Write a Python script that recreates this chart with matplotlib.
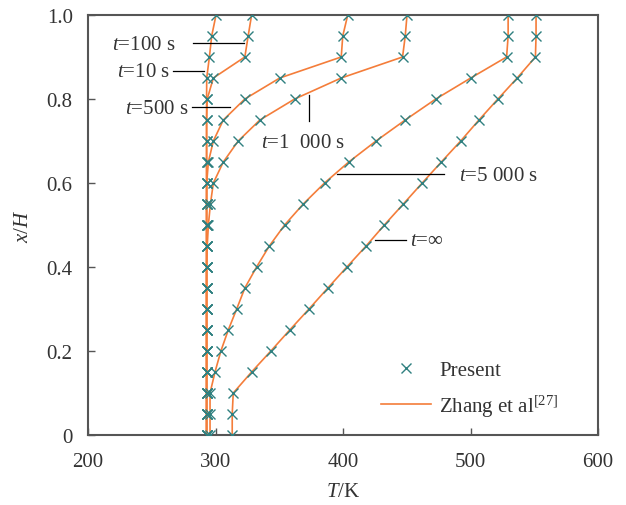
import matplotlib
matplotlib.use("Agg")
import matplotlib.pyplot as plt
import numpy as np

plt.rcParams["font.family"] = ["Liberation Serif", "DejaVu Serif"]
plt.rcParams["mathtext.fontset"] = "custom"
plt.rcParams["mathtext.rm"] = "Liberation Serif"
plt.rcParams["mathtext.it"] = "Liberation Serif:italic"

_TEAL = "#2f8080"
_ORANGE = "#f47d3a"
_INK = "#333333"
_SPINE = "#555555"

# height positions x/H (same for every profile)
x_h = [0.0, 0.05, 0.1, 0.15, 0.2, 0.25, 0.3, 0.35, 0.4, 0.45, 0.5,
       0.55, 0.6, 0.65, 0.7, 0.75, 0.8, 0.85, 0.9, 0.95, 1.0]

# temperature profiles T (K)
T_10 = [293, 293, 293, 293, 293, 293, 293, 293, 293, 293, 293,
        293, 293, 293, 293, 293, 293, 293.1, 295.2, 297.0, 300.4]
T_100 = [293, 293, 293, 293, 293, 293, 293, 293, 293, 293, 293,
         293, 293, 293, 293, 293, 293.5, 298.3, 323.0, 325.6, 328.3]
T_500 = [293, 293, 293, 293, 293, 293, 293, 293, 293, 293, 293,
         293, 293.1, 294.4, 298.3, 306.1, 323.0, 350.4, 398.6, 399.8, 403.7]
T_1000 = [293, 293, 293, 293, 293, 293, 293, 293, 293, 293.5, 294.4,
          296.0, 298.3, 306.1, 317.8, 334.8, 362.1, 398.6, 446.7, 448.8, 450.2]
T_5000 = [295.7, 295.7, 295.7, 299.6, 304.2, 310.0, 316.6, 323.0, 332.2, 342.2, 354.2,
          368.8, 385.5, 404.5, 425.9, 448.8, 472.8, 500.2, 528.3, 529.5, 529.5]
T_inf = [313.1, 313.1, 313.9, 328.3, 343.4, 358.2, 373.3, 388.1, 403.0, 418.1, 432.4,
         447.3, 462.1, 477.1, 492.3, 506.6, 521.5, 536.6, 550.9, 551.4, 551.4]

profiles = [T_10, T_100, T_500, T_1000, T_5000, T_inf]

fig = plt.figure(figsize=(6.26, 5.06), dpi=100)
ax = fig.add_axes([0.1406, 0.1383, 0.8147, 0.8301])

line_h = None
mark_h = None
for T in profiles:
    (line_h,) = ax.plot(T, x_h, color=_ORANGE, lw=1.2, zorder=2)
for T in profiles:
    (mark_h,) = ax.plot(T, x_h, ls="none", marker="x", ms=7, mew=1.0,
                        color=_TEAL, zorder=3)

# annotations: leader lines + labels
fs = 15
ax.plot([282.4, 322.3], [0.933, 0.933], color="k", lw=0.9)
ax.text(268.4, 0.929, "$t$=100 s", ha="right", va="center", fontsize=fs, color=_INK)
ax.plot([266.8, 291.0], [0.867, 0.867], color="k", lw=0.9)
ax.text(264.5, 0.865, "$t$=10 s", ha="right", va="center", fontsize=fs, color=_INK)
ax.plot([281.6, 311.3], [0.78, 0.78], color="k", lw=0.9)
ax.text(279.0, 0.778, "$t$=500 s", ha="right", va="center", fontsize=fs, color=_INK)
ax.plot([373.3, 373.3], [0.748, 0.81], color="k", lw=0.9)
ax.text(336.0, 0.697, "$t$=1  000 s", ha="left", va="center", fontsize=fs, color=_INK)
ax.plot([395.0, 479.3], [0.621, 0.621], color="k", lw=0.9)
ax.text(491.0, 0.619, "$t$=5 000 s", ha="left", va="center", fontsize=fs, color=_INK)
ax.plot([425.4, 449.4], [0.465, 0.465], color="k", lw=0.9)
ax.text(452.5, 0.463, "$t$=∞", ha="left", va="center", fontsize=fs, color=_INK)

ax.set_xlim(200, 600)
ax.set_ylim(0, 1.0)
ax.set_xticks([200, 300, 400, 500, 600])
ax.set_yticks([0, 0.2, 0.4, 0.6, 0.8, 1.0])
ax.set_yticklabels(["0", "0.2", "0.4", "0.6", "0.8", "1.0"])
ax.tick_params(direction="in", length=5, width=1.0, colors=_SPINE,
               labelcolor=_INK, labelsize=15)
ax.tick_params(axis="x", pad=12)
ax.tick_params(axis="y", pad=11)
for spine in ax.spines.values():
    spine.set_edgecolor(_SPINE)
    spine.set_linewidth(1.5)

ax.set_xlabel("$T$/K", fontsize=15, color=_INK, labelpad=8)
ax.set_ylabel("$x$/$H$", fontsize=15, color=_INK, labelpad=10)

leg = ax.legend([mark_h, line_h], ["Present", "Zhang et al$^{[27]}$"],
                loc="upper left", bbox_to_anchor=(0.537, 0.222), frameon=False,
                fontsize=15, handlelength=2.4, handletextpad=0.4,
                labelspacing=0.6, labelcolor=_INK)

fig.savefig("out.png", dpi=100, facecolor="white")
